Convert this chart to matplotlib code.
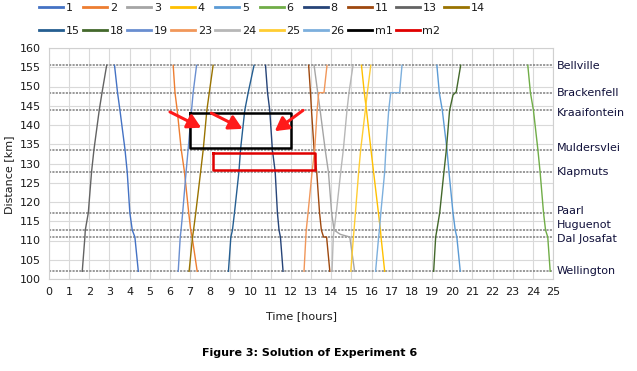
#!/usr/bin/env python3
"""
Train graph (time-distance diagram) for the solution of Experiment 6.
"""

import matplotlib
matplotlib.use("Agg")
import matplotlib.pyplot as plt

# Stations along the line (km)
station_names = ["Wellington", "Dal Josafat", "Huguenot", "Paarl", "Klapmuts",
                 "Muldersvlei", "Kraaifontein", "Brackenfell", "Bellville"]
station_km = [102.0, 110.9, 112.7, 117.2, 127.8, 133.6, 143.8, 148.4, 155.5]
# where the station names sit on the right-hand side
label_km = [102.1, 110.3, 113.9, 117.7, 127.9, 134.0, 143.0, 148.4, 155.4]
down_km = station_km[::-1]

# Train runs: times in hours, distances in km
t_1 = [3.25, 3.40, 3.52, 3.77, 3.88, 4.01, 4.13, 4.26, 4.43]
d_1 = down_km
t_2 = [6.16, 6.25, 6.36, 6.56, 6.72, 6.93, 7.03, 7.10, 7.35]
d_2 = down_km
t_3 = [13.15, 13.33, 13.45, 13.70, 13.86, 14.02, 14.14, 14.45, 14.92, 15.16]
d_3 = [155.5, 148.4, 143.8, 133.6, 127.8, 117.2, 112.7, 111.6, 110.9, 102.0]
t_4 = [15.50, 15.64, 15.75, 15.97, 16.10, 16.34, 16.44, 16.47, 16.65]
d_4 = down_km
t_5 = [19.24, 19.36, 19.51, 19.74, 19.84, 20.04, 20.15, 20.23, 20.40]
d_5 = down_km
t_6 = [23.75, 23.88, 24.03, 24.25, 24.36, 24.53, 24.63, 24.74, 24.86]
d_6 = down_km
t_8 = [10.74, 10.84, 10.95, 11.08, 11.22, 11.33, 11.41, 11.48, 11.61]
d_8 = down_km
t_11 = [12.88, 12.97, 13.02, 13.15, 13.28, 13.42, 13.51, 13.62, 13.77, 13.93]
d_11 = [155.5, 148.4, 143.8, 133.6, 127.8, 117.2, 112.7, 110.9, 110.9, 102.0]
t_13 = [1.65, 1.78, 1.80, 1.95, 2.11, 2.23, 2.49, 2.63, 2.86]
d_13 = station_km
t_14 = [6.95, 7.12, 7.17, 7.28, 7.52, 7.65, 7.83, 7.95, 8.14]
d_14 = station_km
t_15 = [8.90, 9.02, 9.10, 9.20, 9.42, 9.50, 9.71, 9.88, 10.17]
d_15 = station_km
t_18 = [19.08, 19.18, 19.24, 19.38, 19.59, 19.71, 19.87, 20.04, 20.20, 20.42]
d_18 = [102.0, 110.9, 112.7, 117.2, 127.8, 133.6, 143.8, 147.8, 148.6, 155.5]
t_19 = [6.41, 6.51, 6.55, 6.63, 6.80, 6.90, 7.07, 7.15, 7.32]
d_19 = station_km
t_23 = [12.65, 12.74, 12.76, 12.85, 13.05, 13.18, 13.30, 13.38, 13.64, 13.79]
d_23 = [102.0, 110.9, 112.7, 117.2, 127.8, 133.6, 143.8, 148.4, 148.4, 155.5]
t_24 = [14.04, 14.10, 14.14, 14.25, 14.47, 14.60, 14.78, 14.88, 15.08]
d_24 = station_km
t_25 = [14.97, 15.10, 15.13, 15.20, 15.36, 15.46, 15.69, 15.79, 15.96]
d_25 = station_km
t_26 = [16.20, 16.35, 16.39, 16.46, 16.65, 16.71, 16.85, 16.95, 17.39, 17.51]
d_26 = [102.0, 110.9, 112.7, 117.2, 127.8, 133.6, 143.8, 148.4, 148.4, 155.5]

# Marked regions (drawn as closed outlines)
t_m1 = [7.0, 12.0, 12.0, 7.0, 7.0]
d_m1 = [143.0, 143.0, 134.0, 134.0, 143.0]
t_m2 = [8.15, 13.2, 13.2, 8.15, 8.15]
d_m2 = [132.6, 132.6, 128.2, 128.2, 132.6]

# Arrows pointing at the conflicts: (tail_t, tail_d, head_t, head_d)
arrows = [(6.0, 143.4, 7.55, 139.3),
          (8.05, 143.1, 9.6, 139.0),
          (12.6, 143.8, 11.2, 138.4)]

series = [
    ("1", t_1, d_1, "#4472C4"),
    ("2", t_2, d_2, "#ED7D31"),
    ("3", t_3, d_3, "#A5A5A5"),
    ("4", t_4, d_4, "#FFC000"),
    ("5", t_5, d_5, "#5B9BD5"),
    ("6", t_6, d_6, "#70AD47"),
    ("8", t_8, d_8, "#264478"),
    ("11", t_11, d_11, "#9E480E"),
    ("13", t_13, d_13, "#636363"),
    ("14", t_14, d_14, "#997300"),
    ("15", t_15, d_15, "#255E91"),
    ("18", t_18, d_18, "#43682B"),
    ("19", t_19, d_19, "#698ED0"),
    ("23", t_23, d_23, "#F1975A"),
    ("24", t_24, d_24, "#B7B7B7"),
    ("25", t_25, d_25, "#FFCD33"),
    ("26", t_26, d_26, "#7CAFDD"),
]


def main():
    plt.rcParams['font.family'] = ['DejaVu Sans']
    text_col = '#1a1a1a'

    fig = plt.figure(figsize=(6.37, 3.71), dpi=100)
    ax = fig.add_axes([49 / 637, 1 - 279 / 371, 504 / 637, 231 / 371])

    # Grid
    ax.set_xlim(0, 25)
    ax.set_ylim(100, 160)
    ax.set_xticks(range(0, 26))
    ax.set_yticks(range(100, 161, 5))
    ax.grid(True, color='#d9d9d9', lw=0.8)
    ax.set_axisbelow(True)
    ax.tick_params(length=0, labelsize=8, colors=text_col, pad=6)
    for sp in ax.spines.values():
        sp.set_color('#d0d0d0')
        sp.set_linewidth(0.8)

    # Station lines
    for name, km, lab_km in zip(station_names, station_km, label_km):
        ax.plot([0, 25], [km, km], color='#7f7f7f', lw=1.1,
                linestyle=(0, (1.4, 0.8)), zorder=1.5)
        ax.text(25.2, lab_km, name, fontsize=8, color='#10103a',
                va='center', ha='left', clip_on=False)

    handles = []
    for label, t, d, col in series:
        h, = ax.plot(t, d, color=col, lw=1.0, label=label, zorder=2)
        handles.append(h)

    h, = ax.plot(t_m1, d_m1, color='black', lw=1.8, label='m1', zorder=3)
    handles.append(h)
    h, = ax.plot(t_m2, d_m2, color='#e00000', lw=1.8, label='m2', zorder=3)
    handles.append(h)

    for t0, d0, t1, d1 in arrows:
        ax.annotate('', xy=(t1, d1), xytext=(t0, d0),
                    arrowprops=dict(arrowstyle='-|>,head_width=0.45,head_length=0.8',
                                    color='#ff1a1a', lw=2.2, mutation_scale=10,
                                    shrinkA=0, shrinkB=0), zorder=4)

    ax.set_xlabel('Time [hours]', fontsize=8, color=text_col)
    ax.xaxis.set_label_coords(0.5, -0.14)
    ax.set_ylabel('Distance [km]', fontsize=8, color=text_col)
    ax.yaxis.set_label_coords(-0.07, 0.45)

    # legend is filled column by column: interleave the two rows
    ncol = 10
    row1, row2 = handles[:ncol], handles[ncol:]
    ordered = []
    for i in range(ncol):
        ordered.append(row1[i])
        if i < len(row2):
            ordered.append(row2[i])

    leg = fig.legend(handles=ordered, ncol=ncol, loc='upper left',
                     bbox_to_anchor=(39 / 637, 1 - 3 / 371), frameon=False,
                     fontsize=8, handlelength=2.15, handletextpad=0.25,
                     columnspacing=0.3, labelspacing=1.2,
                     borderpad=0, borderaxespad=0)
    for line in leg.get_lines():
        line.set_linewidth(2.0)
    for txt in leg.get_texts():
        txt.set_color(text_col)

    fig.text(309.5 / 637, 1 - 352.7 / 371, 'Figure 3: Solution of Experiment 6',
             ha='center', va='center', fontsize=8, fontweight='bold', color='black')

    fig.savefig('out.png', dpi=100)


if __name__ == "__main__":
    main()
